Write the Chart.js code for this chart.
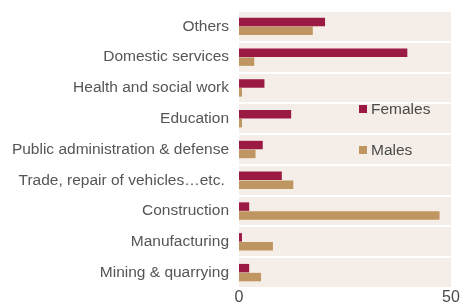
<!DOCTYPE html>
<html>
<head>
<meta charset="utf-8">
<script src="https://cdn.jsdelivr.net/npm/chart.js@4"></script>
<style>
  html, body { margin: 0; padding: 0; background: #fff; }
  #wrap { width: 462px; height: 308px; }
</style>
</head>
<body>
<div id="wrap"><canvas id="sectorChart"></canvas></div>
<script>
const categories = [
  'Others', 'Domestic services', 'Health and social work', 'Education',
  'Public administration & defense', 'Trade, repair of vehicles\u2026etc. ',
  'Construction', 'Manufacturing', 'Mining & quarrying'
];
const females = [20.3, 39.7, 6.0, 12.3, 5.6, 10.1, 2.4, 0.7, 2.4];
const males = [17.4, 3.6, 0.7, 0.7, 3.9, 12.8, 47.3, 8.0, 5.2];
const xTicks = [0, 50];

const FONT = '"Liberation Sans", Arial, sans-serif';

// plot background
const plotBackground = {
  id: 'plotBackground',
  beforeDraw(chart) {
    const { ctx, chartArea } = chart;
    ctx.save();
    ctx.fillStyle = '#f5eee8';
    ctx.fillRect(chartArea.left, chartArea.top, chartArea.right - chartArea.left, chartArea.bottom - chartArea.top);
    ctx.restore();
  }
};

// legend sits inside the plot, right side
const insideLegend = {
  id: 'insideLegend',
  afterDraw(chart) {
    const { ctx, chartArea } = chart;
    const x = chartArea.left + 120;
    const rows = [chartArea.top + 98, chartArea.top + 139];
    ctx.save();
    ctx.font = '15.5px ' + FONT;
    ctx.textBaseline = 'middle';
    chart.data.datasets.forEach((ds, i) => {
      ctx.fillStyle = ds.backgroundColor;
      ctx.fillRect(x, rows[i] - 4, 8, 8);
      ctx.fillStyle = '#4a4a4a';
      ctx.fillText(ds.label, x + 12, rows[i] + 1);
    });
    ctx.restore();
  }
};

const ctx = document.getElementById('sectorChart').getContext('2d');
new Chart(ctx, {
  type: 'bar',
  data: {
    labels: categories,
    datasets: [
      { label: 'Females', data: females, backgroundColor: '#9a1a44', categoryPercentage: 0.58, barPercentage: 0.95 },
      { label: 'Males', data: males, backgroundColor: '#bf9661', categoryPercentage: 0.58, barPercentage: 0.95 }
    ]
  },
  options: {
    indexAxis: 'y',
    responsive: true,
    maintainAspectRatio: false,
    animation: false,
    layout: { padding: { top: 11, right: 11, bottom: 0, left: 0 } },
    scales: {
      x: {
        min: 0,
        max: 50,
        afterBuildTicks(axis) { axis.ticks = xTicks.map(v => ({ value: v })); },
        afterFit(axis) { axis.height = 20; axis.paddingLeft = 0; axis.paddingRight = 0; },
        grid: { display: false, drawTicks: false },
        border: { display: false },
        ticks: {
          color: '#4a4a4a',
          padding: 0,
          font: { family: FONT, size: 16 }
        }
      },
      y: {
        afterFit(axis) { axis.width = 239; axis.paddingTop = 0; axis.paddingBottom = 0; },
        grid: { color: '#ffffff', lineWidth: 2, drawTicks: false },
        border: { display: false },
        ticks: {
          color: '#555555',
          padding: 10,
          font: { family: FONT, size: 15.5 }
        }
      }
    },
    plugins: {
      legend: { display: false },
      tooltip: { enabled: false }
    }
  },
  plugins: [plotBackground, insideLegend]
});
</script>
</body>
</html>
